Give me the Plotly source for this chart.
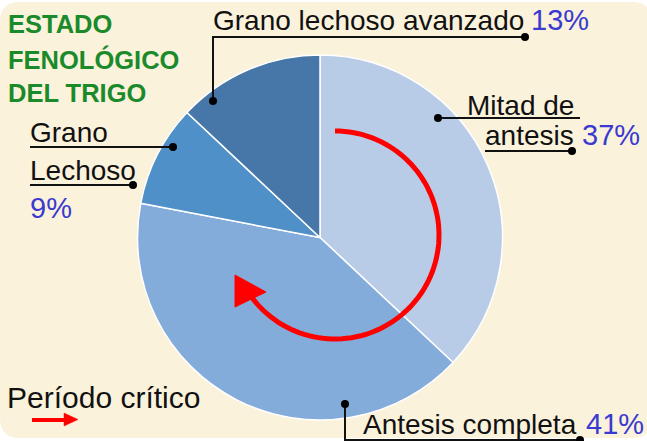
import numpy as np
import plotly.graph_objects as go

# ---- data ----
stages = ["Mitad de antesis", "Antesis completa", "Grano Lechoso", "Grano lechoso avanzado"]
shares = [37, 41, 9, 13]
slice_colors = ["#b8cce8", "#84acdb", "#5090c8", "#4677a8"]
title_lines = ["ESTADO", "FENOLÓGICO", "DEL TRIGO"]
legend_text = "Período crítico"

W, H = 647, 441
BG = "#fbf2dc"
BLUE_TXT = "#3a3ad0"
FONT = "Liberation Sans, Arial, sans-serif"

def px(x):
    return x / W

def py(y):
    return 1 - y / H

# pie geometry (pixels)
cx, cy, r = 320, 237.5, 182.5

fig = go.Figure()
fig.add_trace(go.Pie(
    labels=stages, values=shares, sort=False, direction="clockwise", rotation=0,
    marker=dict(colors=slice_colors, line=dict(color="white", width=1.5)),
    textinfo="none", hoverinfo="label+percent", showlegend=False,
    domain=dict(x=[px(cx - r), px(cx + r)], y=[py(cy + r), py(cy - r)]),
))

shapes = []
# rounded background
x0, y0, x1, y1, rad = 0, 2, 652, 438, 20
bg_path = (f"M {x0+rad},{y0} L {x1-rad},{y0} Q {x1},{y0} {x1},{y0+rad} L {x1},{y1-rad} "
           f"Q {x1},{y1} {x1-rad},{y1} L {x0+rad},{y1} Q {x0},{y1} {x0},{y1-rad} "
           f"L {x0},{y0+rad} Q {x0},{y0} {x0+rad},{y0} Z")
shapes.append(dict(type="path", path=bg_path, xref="x", yref="y", fillcolor=BG,
                   line=dict(width=0), layer="below"))

# red circular arrow
acx, acy, ar = 335, 235, 104
t = np.radians(np.linspace(0, 234, 90))
pts = [(acx + ar * np.sin(a), acy - ar * np.cos(a)) for a in t]
arc = "M " + " L ".join(f"{x:.1f},{y:.1f}" for x, y in pts)
shapes.append(dict(type="path", path=arc, xref="x", yref="y",
                   line=dict(color="#ff0000", width=5), layer="above"))
shapes.append(dict(type="path", path="M 235,275 L 266,292 L 235,307 Z", xref="x", yref="y",
                   fillcolor="#ff0000", line=dict(color="#ff0000", width=1), layer="above"))

# legend arrow
shapes.append(dict(type="line", x0=32, y0=420, x1=67, y1=420, xref="x", yref="y",
                   line=dict(color="#ff0000", width=4), layer="above"))
shapes.append(dict(type="path", path="M 64,413 L 78,419.5 L 64,426 Z", xref="x", yref="y",
                   fillcolor="#ff0000", line=dict(color="#ff0000", width=0.5), layer="above"))

# leader lines
def polyline(points):
    p = "M " + " L ".join(f"{x},{y}" for x, y in points)
    shapes.append(dict(type="path", path=p, xref="x", yref="y",
                       line=dict(color="#111111", width=2), layer="above"))

def dot(x, y, rr=4):
    shapes.append(dict(type="circle", x0=x - rr, x1=x + rr, y0=y - rr, y1=y + rr,
                       xref="x", yref="y", fillcolor="#000000", line=dict(width=0), layer="above"))

polyline([(525, 37), (213, 37), (213, 102)]); dot(525, 37); dot(213, 101)
polyline([(438, 118), (580, 118)]); dot(438, 118)
polyline([(485, 151), (572, 151)]); dot(572, 151)
polyline([(30, 147), (173, 147)]); dot(173, 147)
polyline([(30, 185), (133, 185)]); dot(133, 185)
polyline([(345, 404), (345, 445)]); dot(345, 404)
polyline([(345, 440), (580, 440)]); dot(580, 440)

ann = []
def text(x, baseline, s, size=28, color="#111111", bold=False):
    label = f"<b>{s}</b>" if bold else s
    ann.append(dict(x=x, y=baseline - 0.35 * size, xref="x", yref="y", text=label,
                    showarrow=False, xanchor="left", yanchor="middle", borderpad=0,
                    font=dict(family=FONT, size=size, color=color)))

# title
for line, b in zip(title_lines, [33, 68, 102]):
    text(7, b, line, size=25.5, color="#1a8a2a", bold=True)

text(212, 30, "Grano lechoso avanzado", 28)
text(530, 30, f"{shares[3]}%", 29, BLUE_TXT)
text(466, 115, "Mitad de", 28)
text(484, 145, "antesis", 28)
text(581, 145, f"{shares[0]}%", 29, BLUE_TXT)
text(29, 142, "Grano", 28)
text(29, 180, "Lechoso", 28)
text(29, 218, f"{shares[2]}%", 29, BLUE_TXT)
text(362, 434, "Antesis completa", 28)
text(585, 434, f"{shares[1]}%", 29, BLUE_TXT)
text(6, 408, legend_text, 30)

fig.update_layout(
    width=W, height=H, margin=dict(l=0, r=0, t=0, b=0),
    paper_bgcolor="white", plot_bgcolor="rgba(0,0,0,0)",
    xaxis=dict(range=[0, W], visible=False, fixedrange=True, domain=[0, 1]),
    yaxis=dict(range=[H, 0], visible=False, fixedrange=True, domain=[0, 1]),
    shapes=shapes, annotations=ann, showlegend=False,
)
fig.write_html("out.html", config={"displayModeBar": False},
               post_script="document.body.style.margin='0px';document.body.style.overflow='hidden';")
